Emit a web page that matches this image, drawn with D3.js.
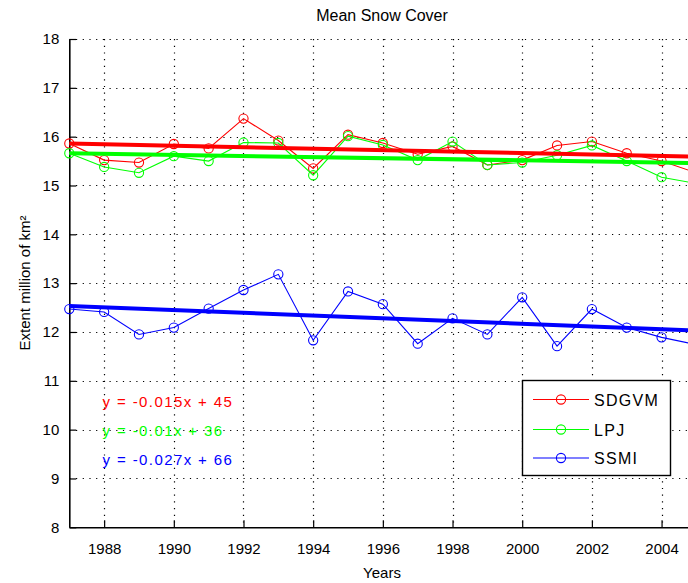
<!DOCTYPE html>
<html><head><meta charset="utf-8">
<script src="https://cdn.jsdelivr.net/npm/d3@7"></script>
<style>body{margin:0;background:#fff}svg{display:block}text{font-family:"Liberation Sans",Arial,sans-serif}</style>
</head><body><svg id="c" width="688" height="583"></svg>
<script>
const years = [1987,1988,1989,1990,1991,1992,1993,1994,1995,1996,1997,1998,1999,2000,2001,2002,2003,2004,2005];
const sdgvm = [15.86,15.52,15.47,15.85,15.76,16.37,15.92,15.35,16.04,15.87,15.64,15.80,15.42,15.52,15.82,15.90,15.66,15.50,15.26];
const lpj   = [15.66,15.38,15.26,15.60,15.50,15.88,15.87,15.21,16.01,15.83,15.52,15.90,15.42,15.47,15.62,15.82,15.50,15.17,15.04];
const ssmi  = [12.47,12.41,11.95,12.09,12.48,12.86,13.18,11.83,12.83,12.57,11.76,12.28,11.95,12.71,11.71,12.47,12.09,11.89,11.74];
const trendYears = [1987,2005];
const sdgvmTrend = [15.86,15.59];
const lpjTrend   = [15.66,15.46];
const ssmiTrend  = [12.53,12.03];
const seriesNames = ["SDGVM","LPJ","SSMI"];
const seriesColors = ["#ff0000","#00ff00","#0000ff"];
const equations = ["y = -0.015x + 45","y = -0.01x + 36","y = -0.027x + 66"];
const xTicks = [1988,1990,1992,1994,1996,1998,2000,2002,2004];
const yTicks = [8,9,10,11,12,13,14,15,16,17,18];

const svg = d3.select("#c");
const L = 69.3, R = 696.4, T = 39, B = 527.3;
const x = d3.scaleLinear().domain([1987,2005]).range([L,R]);
const y = d3.scaleLinear().domain([8,18]).range([B,T]);

// grid
const g = svg.append("g");
g.selectAll(".vg").data(xTicks).join("line")
 .attr("x1",d=>Math.round(x(d))+0.5).attr("x2",d=>Math.round(x(d))+0.5)
 .attr("y1",T).attr("y2",B).attr("stroke","#000").attr("stroke-width",1.2).attr("stroke-dasharray","1.2,5.5");
g.selectAll(".hg").data(yTicks.slice(1)).join("line")
 .attr("y1",d=>Math.round(y(d))+0.5).attr("y2",d=>Math.round(y(d))+0.5)
 .attr("x1",L).attr("x2",R).attr("stroke","#000").attr("stroke-width",1.2).attr("stroke-dasharray","1.2,5.5");

// axes
const xAxis = d3.axisBottom(x).tickValues(xTicks).tickFormat(d3.format("d")).tickSizeInner(-7).tickSizeOuter(0).tickPadding(16);
const yAxis = d3.axisLeft(y).tickValues(yTicks).tickSizeInner(-7).tickSizeOuter(0).tickPadding(10);
const gx = svg.append("g").attr("transform",`translate(0,${B})`).call(xAxis);
const gy = svg.append("g").attr("transform",`translate(${L},0)`).call(yAxis);
[gx,gy].forEach(a=>{
  a.select(".domain").attr("stroke","#000").attr("stroke-width",1.6);
  a.selectAll(".tick line").attr("stroke","#000").attr("stroke-width",1.2);
  a.selectAll("text").attr("font-size",15).attr("fill","#000").attr("font-family","'Liberation Sans',Arial,sans-serif");
});

// series
const allSeries = [sdgvm, lpj, ssmi];
const allTrends = [sdgvmTrend, lpjTrend, ssmiTrend];
const line = d3.line().x(d=>x(d[0])).y(d=>y(d[1]));
allSeries.forEach((s,i)=>{
  const pts = years.map((yr,j)=>[yr,s[j]]);
  svg.append("path").attr("d",line(pts)).attr("fill","none").attr("stroke",seriesColors[i]).attr("stroke-width",1.1);
  svg.append("g").selectAll("circle").data(pts.filter(p=>p[0]<=2004)).join("circle")
    .attr("cx",d=>x(d[0])).attr("cy",d=>y(d[1])).attr("r",4.6)
    .attr("fill","none").attr("stroke",seriesColors[i]).attr("stroke-width",1.1);
});
allTrends.forEach((t,i)=>{
  const pts = trendYears.map((yr,j)=>[yr,t[j]]);
  svg.append("path").attr("d",line(pts)).attr("fill","none").attr("stroke",seriesColors[i]).attr("stroke-width",4);
});

// equations
equations.forEach((e,i)=>{
  svg.append("text").attr("x",102.5).attr("y",[407,436,465][i]).attr("font-size",15)
    .attr("letter-spacing",1.4).attr("fill",seriesColors[i]).text(e);
});

// legend
const lg = svg.append("g");
lg.append("rect").attr("x",522.5).attr("y",380.5).attr("width",148).attr("height",95)
  .attr("fill","#fff").attr("stroke","#000").attr("stroke-width",1.4);
seriesNames.forEach((n,i)=>{
  const yy = [399.5,429.5,458][i];
  lg.append("line").attr("x1",533).attr("x2",589).attr("y1",yy).attr("y2",yy).attr("stroke",seriesColors[i]).attr("stroke-width",1.1);
  lg.append("circle").attr("cx",561).attr("cy",yy).attr("r",4.6).attr("fill","none").attr("stroke",seriesColors[i]).attr("stroke-width",1.1);
  lg.append("text").attr("x",594).attr("y",yy+6).attr("font-size",16).attr("letter-spacing",1.3).attr("fill","#000").text(n);
});

// titles
svg.append("text").attr("x",382).attr("y",21).attr("text-anchor","middle").attr("font-size",16).text("Mean Snow Cover");
svg.append("text").attr("x",382).attr("y",578).attr("text-anchor","middle").attr("font-size",15).text("Years");
svg.append("text").attr("transform","translate(30,283) rotate(-90)").attr("text-anchor","middle").attr("font-size",15).text("Extent million of km²");
</script></body></html>
